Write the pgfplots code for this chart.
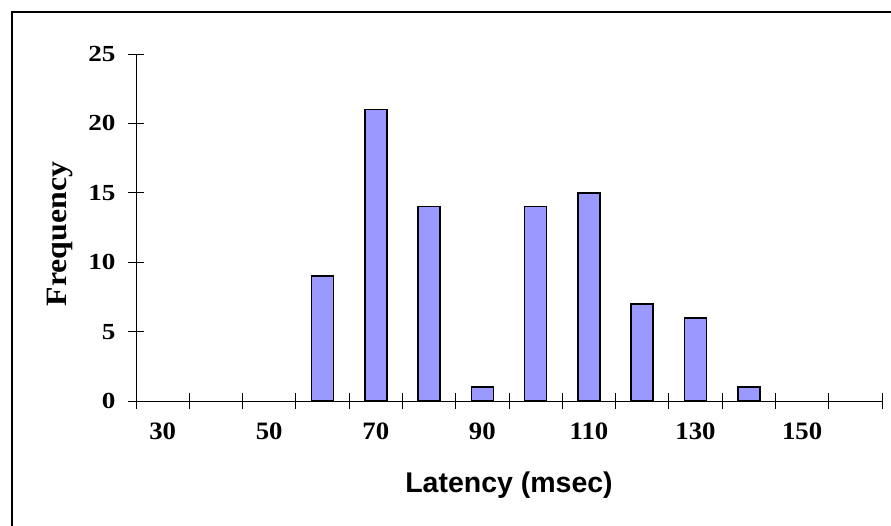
\documentclass[border=0pt]{standalone}
\usepackage{fontspec}
\usepackage{pgfplots}
\pgfplotsset{compat=1.18}
\setmainfont{Liberation Serif}
\newfontfamily\xtickfont[FakeStretch=1.07]{Liberation Serif}
\newfontfamily\ytickfont[FakeStretch=1.18]{Liberation Serif}
\newfontfamily\yfont[FakeStretch=1.08]{Liberation Serif}
\newfontfamily\xfont{Liberation Sans}
\definecolor{barblue}{RGB}{153,153,255}

\begin{document}
\begin{tikzpicture}[x=1bp,y=1bp]
\useasboundingbox (0,0) rectangle (891,526);
% frame around the chart area
\draw[line width=1.3bp] (12,-5) -- (12,514) -- (896,514);
\begin{axis}[
  at={(136bp,125bp)}, anchor=south west,
  scale only axis, width=746bp, height=347bp,
  xmin=-0.5, xmax=13.5, ymin=0, ymax=25,
  axis x line=bottom, axis y line=left,
  axis line style={-, line width=0.9bp, black},
  xtick={0,2,...,12}, xticklabels={30,50,70,90,110,130,150},
  minor xtick={-0.5,0.5,...,13.5},
  ytick={0,5,...,25},
  tick align=center,
  major tick length=16bp, minor tick length=16bp,
  tick style={black, line width=0.9bp},
  major x tick style={draw=none},
  /pgf/number format/assume math mode=true,
  xticklabel style={font=\xtickfont\bfseries\fontsize{25bp}{30bp}\selectfont, yshift=-10bp},
  yticklabel style={font=\ytickfont\bfseries\fontsize{23bp}{27bp}\selectfont, xshift=-9bp},
  xlabel={Latency (msec)}, ylabel={Frequency},
  xlabel style={font=\xfont\bfseries\fontsize{28.5bp}{34bp}\selectfont,
    at={(axis description cs:0.5,-0.265)}, anchor=base},
  ylabel style={font=\yfont\bfseries\fontsize{29.5bp}{35bp}\selectfont,
    at={(axis description cs:-0.102,0.481)}, anchor=center},
]
\addplot[ybar, bar width=22bp, bar shift=0pt, fill=barblue, draw=black, line width=1.6bp]
  coordinates {(3,9) (4,21) (5,14) (6,1) (7,14) (8,15) (9,7) (10,6) (11,1)};
\end{axis}
\end{tikzpicture}
\end{document}
